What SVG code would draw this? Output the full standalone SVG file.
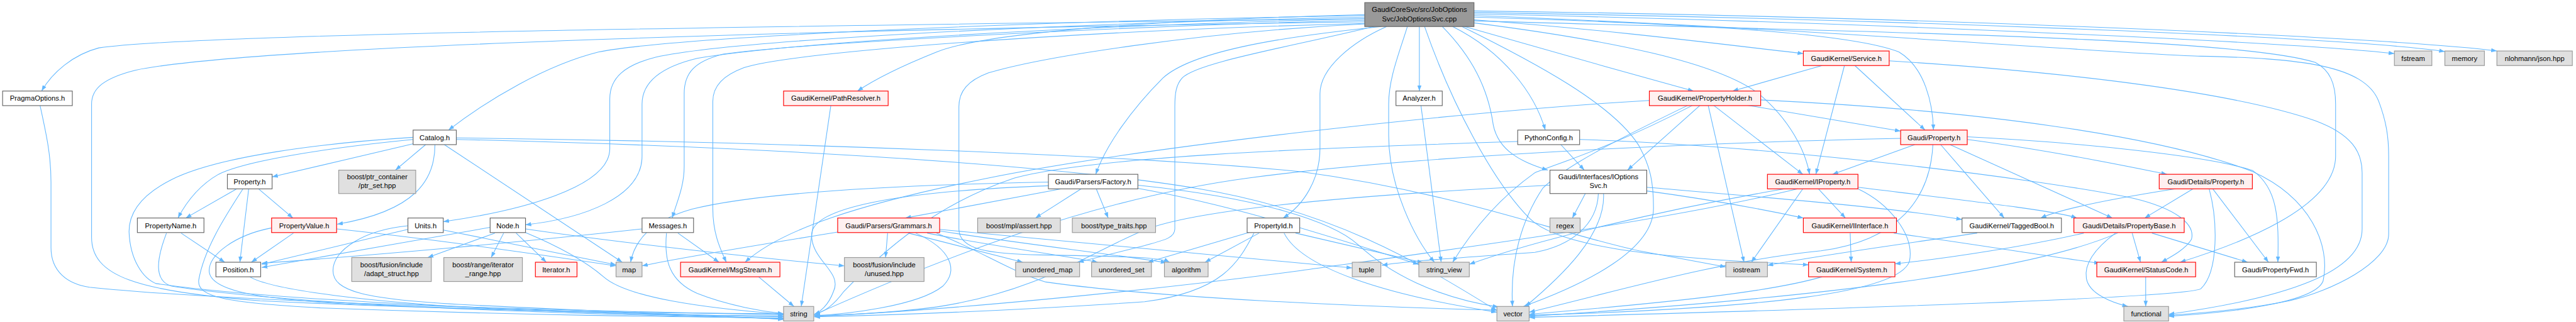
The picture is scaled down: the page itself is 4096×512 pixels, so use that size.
<svg xmlns="http://www.w3.org/2000/svg" width="4096" height="512" viewBox="0 0 4096 512">
<style>
.n rect{stroke-width:1.4}
.w rect{fill:#ffffff;stroke:#666666}
.g rect{fill:#e0e0e0;stroke:#999999}
.r rect{fill:#fff0f0;stroke:#ff0000}
.m rect{fill:#999999;stroke:#666666}
text{font-family:"Liberation Sans",Arial,sans-serif;font-size:13.6px;text-anchor:middle;fill:#000000}
#edges path{fill:none;stroke:#63b8ff;stroke-width:1.3;marker-end:url(#a)}
</style>
<defs>
<marker id="a" markerWidth="11" markerHeight="8" refX="11" refY="4" orient="auto" markerUnits="userSpaceOnUse"><path d="M0,0 L11,4 L0,8 z" fill="#63b8ff" stroke="none"/></marker>
</defs>
<rect x="0" y="0" width="4096" height="512" fill="#ffffff"/>
<g transform="scale(0.8273)">
<g id="edges">
<path d="M2623,36 C1700,48 400,62 190,92 C140,105 100,140 80,175"/>
<path d="M2623,42 C1700,55 500,85 260,135 C200,150 176,170 176,200 L176,456 C176,530 260,560 500,578 C900,598 1300,602 1506,603"/>
<path d="M2623,30 C2000,40 1300,70 1150,100 C1050,125 940,190 862,250"/>
<path d="M2623,33 C2000,46 1400,78 1260,110 C1200,125 1172,150 1172,190 L1172,286 C1172,360 1000,405 852,426"/>
<path d="M2623,36 C2050,50 1520,82 1340,112 C1265,130 1234,160 1234,200 L1234,300 C1234,380 1120,420 1010,432"/>
<path d="M2623,39 C2100,52 1520,85 1390,104 C1335,118 1315,140 1315,180 L1315,320 C1315,360 1300,390 1292,419"/>
<path d="M2623,45 C2050,60 1520,100 1430,130 C1390,145 1370,165 1370,195 L1370,400 C1370,450 1385,480 1396,504"/>
<path d="M2623,28 C2250,38 1900,60 1800,100 C1730,128 1685,150 1648,175"/>
<path d="M2623,46 C2300,62 2000,110 1900,140 C1860,155 1843,175 1843,205 L1843,440 C1843,480 1900,488 2000,490 C2180,493 2230,495 2248,504"/>
<path d="M2640,51 C2480,90 2300,120 2272,150 C2261,162 2258,178 2258,205 L2258,440 C2258,458 2235,462 2200,472 L2072,504"/>
<path d="M2655,51 C2450,72 2290,100 2235,150 C2175,210 2125,280 2106,335"/>
<path d="M2665,51 C2600,80 2537,130 2537,180 L2537,285 C2537,345 2505,395 2466,419"/>
<path d="M2705,51 C2690,100 2669,150 2669,200 L2669,260 C2669,360 2720,460 2757,504"/>
<path d="M2728,51 L2728,175"/>
<path d="M2738,51 C2790,200 2870,350 2940,420 C2990,470 3150,495 3476,509"/>
<path d="M2772,51 C2830,110 2860,170 2870,240 C2880,290 2925,312 2975,327"/>
<path d="M2792,51 C2890,100 2950,180 2970,250"/>
<path d="M2810,51 C2950,120 3100,200 3150,280 C3172,320 3178,350 3178,400 C3178,480 3050,545 2928,589"/>
<path d="M2815,51 C2950,90 3110,135 3255,175"/>
<path d="M2833,38 C3100,58 3300,84 3466,103"/>
<path d="M2833,44 C3100,78 3300,120 3380,180 C3440,230 3470,290 3478,335"/>
<path d="M2833,33 C3200,44 3550,60 3650,100 C3700,130 3715,200 3716,250"/>
<path d="M2833,27 C3500,40 4400,80 4602,103"/>
<path d="M2833,24 C3600,36 4500,70 4699,99"/>
<path d="M2833,21 C3700,32 4600,72 4799,98"/>
<path d="M2833,40 C3600,62 4300,72 4450,120 C4478,135 4489,160 4489,200 L4489,300 C4489,400 4300,470 4190,504"/>
<path d="M2833,30 C3500,55 4100,106 4230,108 C4420,112 4545,125 4572,195 C4586,232 4591,262 4591,300 L4591,450 C4591,505 4480,560 4400,578 C4300,598 4200,604 4168,606"/>
<path d="M77,203 C90,262 98,300 98,350 L98,476 C98,522 130,546 172,552 C500,586 1300,601 1506,605"/>
<path d="M796,276 L523,340"/>
<path d="M818,278 L760,327"/>
<path d="M794,268 C620,285 470,310 420,335 C385,355 360,385 342,419"/>
<path d="M794,264 C620,275 420,300 330,345 C270,375 248,410 248,445 C250,500 275,535 300,545 C600,588 1300,605 1506,609"/>
<path d="M836,278 C836,345 800,405 648,431"/>
<path d="M854,278 L1196,504"/>
<path d="M877,265 C1500,272 2200,300 2500,330 C2800,370 3000,450 3150,482 C3230,497 3280,506 3317,513"/>
<path d="M877,268 C1400,280 2000,312 2300,362 C2560,405 2720,500 2877,597"/>
<path d="M455,363 L357,419"/>
<path d="M478,363 L461,504"/>
<path d="M497,363 L563,419"/>
<path d="M467,363 C430,420 392,480 382,538 C378,570 430,582 620,592 C1000,606 1300,609 1506,611"/>
<path d="M348,448 L432,504"/>
<path d="M320,448 C300,500 296,540 330,550 C600,592 1200,606 1506,612"/>
<path d="M564,448 L483,504"/>
<path d="M522,438 C450,452 402,490 402,520 C402,560 500,576 700,586 C1100,601 1400,607 1506,613"/>
<path d="M647,440 C820,458 1030,488 1184,511"/>
<path d="M784,441 C680,465 570,492 503,508"/>
<path d="M784,434 C700,442 640,480 640,520 C640,560 700,576 900,586 C1200,601 1400,607 1506,614"/>
<path d="M852,442 C950,462 1100,492 1184,509"/>
<path d="M942,437 C800,462 610,495 503,514"/>
<path d="M951,448 L822,495"/>
<path d="M968,448 L944,495"/>
<path d="M992,448 L1050,504"/>
<path d="M1010,447 C1070,472 1125,502 1160,532 C1205,572 1350,592 1506,604"/>
<path d="M1010,440 C1200,468 1480,498 1623,511"/>
<path d="M1303,448 L1382,504"/>
<path d="M1281,448 C1276,500 1286,540 1340,564 C1400,588 1470,599 1506,603"/>
<path d="M1234,440 C1000,466 700,492 503,506"/>
<path d="M1706,448 L1702,495"/>
<path d="M1746,448 L1966,504"/>
<path d="M1782,448 C1900,472 2050,492 2110,504"/>
<path d="M1806,444 C1960,468 2150,490 2242,505"/>
<path d="M1610,446 C1450,472 1300,497 1234,511"/>
<path d="M1760,448 C1830,480 1842,520 1812,550 C1762,590 1620,604 1565,607"/>
<path d="M1800,448 C1890,485 1950,525 2010,542 C2220,572 2620,590 2877,596"/>
<path d="M1806,441 C2100,468 2400,498 2599,515"/>
<path d="M2040,363 L1740,419"/>
<path d="M2078,363 L1990,419"/>
<path d="M2107,363 L2130,419"/>
<path d="M2015,350 C1700,356 1450,372 1330,402 C1250,424 1220,462 1212,504"/>
<path d="M2015,357 C1720,368 1562,400 1560,450 C1558,500 1620,522 1602,560 C1592,588 1575,600 1565,604"/>
<path d="M2187,362 C2400,400 2600,470 2727,508"/>
<path d="M2187,356 C2420,380 2560,425 2610,470 C2670,525 2760,572 2880,590"/>
<path d="M3170,193 C2800,215 2200,282 1900,342 C1650,392 1500,442 1432,504"/>
<path d="M2490,448 L2735,505"/>
<path d="M2420,448 L2316,504"/>
<path d="M2400,447 L2206,504"/>
<path d="M2410,448 C2380,505 2350,560 2200,580 C1900,600 1700,606 1565,609"/>
<path d="M2468,448 C2500,512 2650,565 2877,600"/>
<path d="M3047,372 L3022,419"/>
<path d="M3072,372 C3070,432 3020,472 2950,485 C2800,496 2700,502 2656,510"/>
<path d="M3082,372 C3086,452 3000,532 2932,589"/>
<path d="M3165,360 C3400,380 3650,400 3771,422"/>
<path d="M3165,367 C3300,385 3400,405 3466,419"/>
<path d="M2979,356 C2600,375 2300,402 2200,442 C2100,482 2000,560 1800,590 C1700,603 1600,606 1565,606"/>
<path d="M3000,278 L3045,327"/>
<path d="M2917,272 C2500,285 2100,302 1950,342 C1800,392 1700,480 1622,560 C1600,590 1580,601 1565,604"/>
<path d="M3036,268 C3400,280 3900,340 4100,381 C4180,400 4220,430 4212,460 C4200,480 4170,495 4154,504"/>
<path d="M3357,202 L3653,252"/>
<path d="M3293,202 L3465,335"/>
<path d="M3283,202 L3352,504"/>
<path d="M3268,202 L3128,327"/>
<path d="M3254,202 C3100,282 3000,312 2950,332 C2880,382 2830,442 2792,504"/>
<path d="M3245,202 C3100,272 3005,322 2965,362 C2925,422 2902,500 2907,589"/>
<path d="M3384,192 C3800,212 4150,260 4330,330 C4440,380 4480,470 4465,540 C4450,580 4300,600 4168,608"/>
<path d="M3502,126 L3330,175"/>
<path d="M3545,126 L3490,335"/>
<path d="M3565,126 L3700,250"/>
<path d="M3631,117 C4000,140 4300,180 4450,232 C4520,258 4540,292 4540,332 L4540,440 C4540,522 4400,572 4168,604"/>
<path d="M3680,278 L3522,335"/>
<path d="M3730,278 L3852,419"/>
<path d="M3748,278 L4060,419"/>
<path d="M3781,268 C3950,290 4100,322 4165,335"/>
<path d="M3781,263 C4000,274 4250,300 4330,328 C4378,362 4380,420 4378,504"/>
<path d="M3653,266 C3200,276 2700,302 2400,342 C2100,382 1800,500 1565,605"/>
<path d="M3715,278 C3710,380 3650,462 3500,482 C3300,502 3100,562 2939,600"/>
<path d="M3495,363 L3547,419"/>
<path d="M3465,363 L3366,504"/>
<path d="M3430,363 C3200,402 2950,462 2824,508"/>
<path d="M3455,363 C3200,425 2800,478 2500,520 C2200,560 1800,598 1565,608"/>
<path d="M3571,360 C3800,388 3950,405 3992,419"/>
<path d="M3571,363 C3632,392 3680,452 3670,502 C3650,562 3400,592 2939,606"/>
<path d="M3556,448 L3558,504"/>
<path d="M3640,448 C3800,470 3950,495 4036,506"/>
<path d="M3800,448 C3650,470 3500,490 3397,510"/>
<path d="M4005,448 C3900,472 3750,496 3642,507"/>
<path d="M4098,448 L4114,504"/>
<path d="M4136,448 L4320,504"/>
<path d="M4066,448 C4030,475 4005,505 4010,535 C4015,565 4060,582 4090,589"/>
<path d="M4070,448 C3900,522 3500,572 2939,608"/>
<path d="M4215,363 L4122,419"/>
<path d="M4253,363 L4360,504"/>
<path d="M4181,363 C4060,382 3960,402 3922,419"/>
<path d="M4246,363 C4262,422 4265,522 4230,555 C4200,572 3600,592 2939,610"/>
<path d="M4124,532 L4124,589"/>
<path d="M3502,532 C3400,562 3200,582 2939,604"/>
<path d="M1458,532 L1526,589"/>
<path d="M1597,202 L1540,589"/>
<path d="M2731,202 L2770,504"/>
<path d="M480,532 C520,556 700,582 1000,596 C1200,604 1400,607 1506,607"/>
</g>
<g id="main" class="n m"><rect x="2623" y="5" width="210" height="46"/><text x="2728" y="23.5">GaudiCoreSvc/src/JobOptions</text><text x="2728" y="40.5">Svc/JobOptionsSvc.cpp</text></g>
<g id="service" class="n r"><rect x="3466" y="98" width="165" height="28"/><text x="3548.5" y="117">GaudiKernel/Service.h</text></g>
<g id="fstream" class="n g"><rect x="4602" y="98" width="72" height="28"/><text x="4638" y="117">fstream</text></g>
<g id="memory" class="n g"><rect x="4699" y="98" width="76" height="28"/><text x="4737" y="117">memory</text></g>
<g id="json" class="n g"><rect x="4799" y="98" width="145" height="28"/><text x="4871.5" y="117">nlohmann/json.hpp</text></g>
<g id="pragma" class="n w"><rect x="5" y="175" width="134" height="28"/><text x="72" y="193.5">PragmaOptions.h</text></g>
<g id="pathres" class="n r"><rect x="1506" y="175" width="201" height="28"/><text x="1606.5" y="193.5">GaudiKernel/PathResolver.h</text></g>
<g id="analyzer" class="n w"><rect x="2683" y="175" width="89" height="28"/><text x="2727.5" y="193.5">Analyzer.h</text></g>
<g id="propholder" class="n r"><rect x="3170" y="175" width="214" height="28"/><text x="3277" y="193.5">GaudiKernel/PropertyHolder.h</text></g>
<g id="catalog" class="n w"><rect x="794" y="250" width="83" height="28"/><text x="835.5" y="269">Catalog.h</text></g>
<g id="pyconf" class="n w"><rect x="2917" y="250" width="119" height="28"/><text x="2976.5" y="269">PythonConfig.h</text></g>
<g id="gprop" class="n r"><rect x="3653" y="250" width="128" height="28"/><text x="3717" y="269">Gaudi/Property.h</text></g>
<g id="propertyh" class="n w"><rect x="437" y="335" width="86" height="28"/><text x="480" y="354">Property.h</text></g>
<g id="ptrset" class="n g"><rect x="651" y="327" width="148" height="45"/><text x="725" y="345">boost/ptr_container</text><text x="725" y="362">/ptr_set.hpp</text></g>
<g id="factory" class="n w"><rect x="2015" y="335" width="172" height="28"/><text x="2101" y="354">Gaudi/Parsers/Factory.h</text></g>
<g id="ioptions" class="n w"><rect x="2979" y="327" width="186" height="45"/><text x="3072" y="345">Gaudi/Interfaces/IOptions</text><text x="3072" y="362">Svc.h</text></g>
<g id="iprop" class="n r"><rect x="3397" y="335" width="174" height="28"/><text x="3484" y="354">GaudiKernel/IProperty.h</text></g>
<g id="dprop" class="n r"><rect x="4150" y="335" width="179" height="28"/><text x="4239.5" y="354">Gaudi/Details/Property.h</text></g>
<g id="pname" class="n w"><rect x="264" y="419" width="128" height="28"/><text x="328" y="438.5">PropertyName.h</text></g>
<g id="pvalue" class="n r"><rect x="522" y="419" width="125" height="28"/><text x="584.5" y="438.5">PropertyValue.h</text></g>
<g id="units" class="n w"><rect x="784" y="419" width="68" height="28"/><text x="818" y="438.5">Units.h</text></g>
<g id="node" class="n w"><rect x="942" y="419" width="68" height="28"/><text x="976" y="438.5">Node.h</text></g>
<g id="messages" class="n w"><rect x="1234" y="419" width="99" height="28"/><text x="1283.5" y="438.5">Messages.h</text></g>
<g id="grammars" class="n r"><rect x="1610" y="419" width="196" height="28"/><text x="1708" y="438.5">Gaudi/Parsers/Grammars.h</text></g>
<g id="mpl" class="n g"><rect x="1879" y="419" width="159" height="28"/><text x="1958.5" y="438.5">boost/mpl/assert.hpp</text></g>
<g id="typetraits" class="n g"><rect x="2061" y="419" width="160" height="28"/><text x="2141" y="438.5">boost/type_traits.hpp</text></g>
<g id="propid" class="n w"><rect x="2397" y="419" width="101" height="28"/><text x="2447.5" y="438.5">PropertyId.h</text></g>
<g id="regex" class="n g"><rect x="2979" y="419" width="58" height="28"/><text x="3008" y="438.5">regex</text></g>
<g id="iinterface" class="n r"><rect x="3466" y="419" width="179" height="28"/><text x="3555.5" y="438.5">GaudiKernel/IInterface.h</text></g>
<g id="tagged" class="n w"><rect x="3771" y="419" width="191" height="28"/><text x="3866.5" y="438.5">GaudiKernel/TaggedBool.h</text></g>
<g id="pbase" class="n r"><rect x="3986" y="419" width="212" height="28"/><text x="4092" y="438.5">Gaudi/Details/PropertyBase.h</text></g>
<g id="position" class="n w"><rect x="415" y="504" width="86" height="28"/><text x="458" y="523">Position.h</text></g>
<g id="adapt" class="n g"><rect x="676" y="495" width="153" height="46"/><text x="752.5" y="514">boost/fusion/include</text><text x="752.5" y="531">/adapt_struct.hpp</text></g>
<g id="iterrange" class="n g"><rect x="853" y="495" width="151" height="46"/><text x="928.5" y="514">boost/range/iterator</text><text x="928.5" y="531">_range.hpp</text></g>
<g id="iterator" class="n r"><rect x="1029" y="504" width="80" height="28"/><text x="1069" y="523">Iterator.h</text></g>
<g id="map" class="n g"><rect x="1184" y="504" width="50" height="28"/><text x="1209" y="523">map</text></g>
<g id="msgstream" class="n r"><rect x="1308" y="504" width="191" height="28"/><text x="1403.5" y="523">GaudiKernel/MsgStream.h</text></g>
<g id="unused" class="n g"><rect x="1623" y="495" width="153" height="46"/><text x="1699.5" y="514">boost/fusion/include</text><text x="1699.5" y="531">/unused.hpp</text></g>
<g id="umap" class="n g"><rect x="1952" y="504" width="123" height="28"/><text x="2013.5" y="523">unordered_map</text></g>
<g id="uset" class="n g"><rect x="2098" y="504" width="115" height="28"/><text x="2155.5" y="523">unordered_set</text></g>
<g id="algorithm" class="n g"><rect x="2238" y="504" width="84" height="28"/><text x="2280" y="523">algorithm</text></g>
<g id="tuple" class="n g"><rect x="2599" y="504" width="55" height="28"/><text x="2626.5" y="523">tuple</text></g>
<g id="sview" class="n g"><rect x="2727" y="504" width="97" height="28"/><text x="2775.5" y="523">string_view</text></g>
<g id="iostream" class="n g"><rect x="3317" y="504" width="80" height="28"/><text x="3357" y="523">iostream</text></g>
<g id="system" class="n r"><rect x="3476" y="504" width="166" height="28"/><text x="3559" y="523">GaudiKernel/System.h</text></g>
<g id="status" class="n r"><rect x="4030" y="504" width="190" height="28"/><text x="4125" y="523">GaudiKernel/StatusCode.h</text></g>
<g id="pfwd" class="n w"><rect x="4295" y="504" width="157" height="28"/><text x="4373.5" y="523">Gaudi/PropertyFwd.h</text></g>
<g id="string" class="n g"><rect x="1506" y="589" width="58" height="28"/><text x="1535" y="608">string</text></g>
<g id="vector" class="n g"><rect x="2877" y="589" width="62" height="28"/><text x="2908" y="608">vector</text></g>
<g id="functional" class="n g"><rect x="4082" y="589" width="86" height="28"/><text x="4125" y="608">functional</text></g>
</g>
</svg>
